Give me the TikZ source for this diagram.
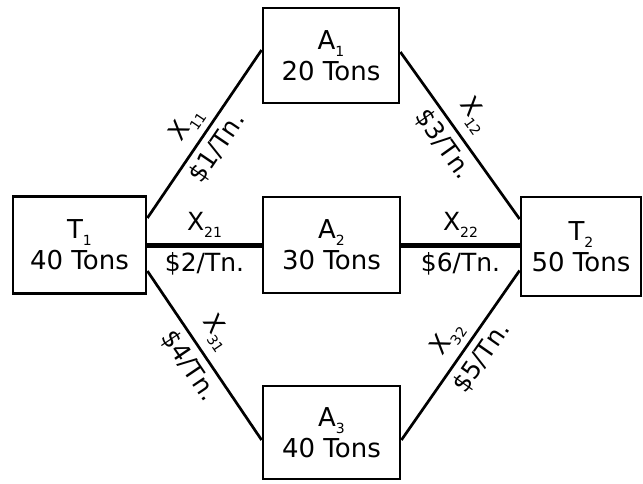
\documentclass[tikz,border=0pt]{standalone}
\usepackage{fontspec}
\setmainfont{DejaVu Sans}
\newcommand\mysub[1]{\raisebox{-0.5ex}{\fontsize{14}{14}\selectfont #1}}
\begin{document}
\begin{tikzpicture}[x=1pt,y=-1pt,
  box/.style={draw, line width=2.8pt, align=center, inner sep=0pt,
    font=\fontsize{26}{31}\selectfont},
  link/.style={line width=2.7pt},
  heavy/.style={line width=5pt},
  lbl/.style={sloped, inner sep=6pt, font=\fontsize{25}{28}\selectfont},
  flat/.style={inner sep=5pt, font=\fontsize{25}{28}\selectfont}]
\useasboundingbox (0,0) rectangle (643,483);
\node[box, minimum width=133pt, minimum height=97pt] (T1) at (79.5,245) {T\mysub{1}\\40 Tons};
\node[box, minimum width=136pt, minimum height=95pt] (A1) at (331,55.5) {A\mysub{1}\\20 Tons};
\node[box, minimum width=137pt, minimum height=96pt] (A2) at (331.5,245) {A\mysub{2}\\30 Tons};
\node[box, minimum width=137pt, minimum height=93pt] (A3) at (331.5,432.5) {A\mysub{3}\\40 Tons};
\node[box, minimum width=120pt, minimum height=99pt] (T2) at (581,246.5) {T\mysub{2}\\50 Tons};

\draw[link] ([yshift=27pt]T1.east) -- ([yshift=5.5pt]A1.west)
  node[lbl, above, pos=0.49] {X\mysub{11}}
  node[lbl, below, pos=0.48] {\$1/Tn.};
\draw[link] ([yshift=3.5pt]A1.east) -- ([yshift=27.5pt]T2.west)
  node[lbl, above, pos=0.46, inner sep=9pt] {X\mysub{12}}
  node[lbl, below, pos=0.49] {\$3/Tn.};
\draw[heavy] (T1.east) -- (A2.west)
  node[flat, above, pos=0.5] {X\mysub{21}}
  node[flat, below, pos=0.5] {\$2/Tn.};
\draw[heavy] (A2.east) -- (A2.east -| T2.west)
  node[flat, above, pos=0.5] {X\mysub{22}}
  node[flat, below, pos=0.5] {\$6/Tn.};
\draw[link] ([yshift=-26pt]T1.east) -- ([yshift=-7.5pt]A3.west)
  node[lbl, above, pos=0.44, inner sep=9pt] {X\mysub{31}}
  node[lbl, below, pos=0.50] {\$4/Tn.};
\draw[link] ([yshift=-7.5pt]A3.east) -- ([yshift=-24pt]T2.west)
  node[lbl, above, pos=0.53] {X\mysub{32}}
  node[lbl, below, pos=0.55] {\$5/Tn.};
\end{tikzpicture}
\end{document}
